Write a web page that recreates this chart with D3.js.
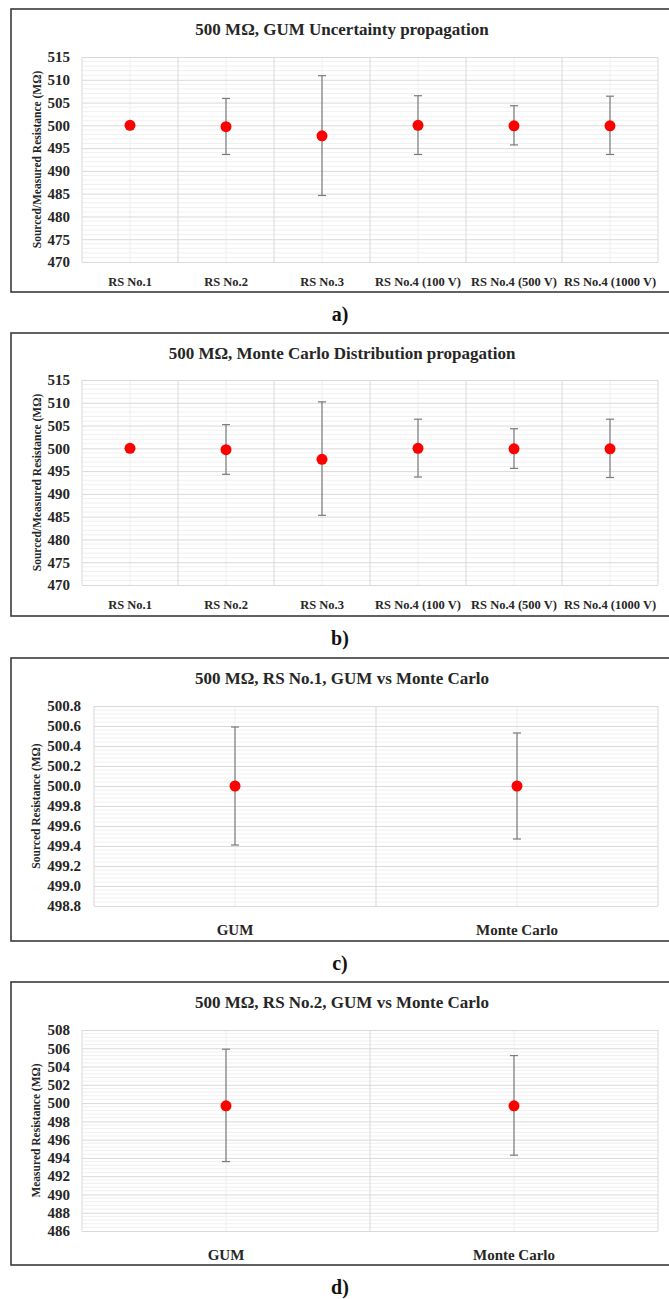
<!DOCTYPE html>
<html>
<head>
<meta charset="utf-8">
<script src="https://cdn.jsdelivr.net/npm/d3@7"></script>
<style>
  body { margin: 0; background: #fff; }
  svg { display: block; }
  svg text { font-family: "Liberation Serif", "DejaVu Serif", serif; }
</style>
</head>
<body>
<svg id="chart" width="669" height="1299"></svg>
<script>
// values (MΩ)
const categories = ["RS No.1", "RS No.2", "RS No.3", "RS No.4 (100 V)", "RS No.4 (500 V)", "RS No.4 (1000 V)"];
const gumMean  = [500.0, 499.7, 497.7, 500.0, 499.9, 499.9];
const gumUpper = [500.59, 505.9, 510.9, 506.5, 504.3, 506.4];
const gumLower = [499.41, 493.6, 484.6, 493.6, 495.7, 493.6];
const mcMean   = [500.0, 499.7, 497.6, 500.0, 499.9, 499.9];
const mcUpper  = [500.53, 505.2, 510.2, 506.4, 504.3, 506.4];
const mcLower  = [499.47, 494.3, 485.3, 493.7, 495.6, 493.6];
const methods = ["GUM", "Monte Carlo"];

const ticksAB = [470, 475, 480, 485, 490, 495, 500, 505, 510, 515];
const ticksC = [498.8, 499.0, 499.2, 499.4, 499.6, 499.8, 500.0, 500.2, 500.4, 500.6, 500.8];
const ticksD = [486, 488, 490, 492, 494, 496, 498, 500, 502, 504, 506, 508];

const svg = d3.select("#chart");

function rows(names, mean, upper, lower) {
  return names.map((n, i) => ({name: n, mean: mean[i], upper: upper[i], lower: lower[i]}));
}

function drawPanel(cfg) {
  const g = svg.append("g");

  // frame
  g.append("rect")
      .attr("x", 11).attr("y", cfg.top)
      .attr("width", 662).attr("height", 283)
      .attr("fill", "none")
      .attr("stroke", "#3a3a3a")
      .attr("stroke-width", 1.6);

  g.append("text")
      .attr("x", 342).attr("y", cfg.top + 26)
      .attr("text-anchor", "middle")
      .attr("font-size", 17).attr("font-weight", "bold")
      .attr("fill", "#262626")
      .text(cfg.title);

  const x = d3.scaleBand()
      .domain(cfg.data.map(d => d.name))
      .range([cfg.left, 658]);
  const y = d3.scaleLinear()
      .domain(d3.extent(cfg.ticks))
      .range([cfg.plotTop + cfg.plotH, cfg.plotTop]);

  // minor horizontal grid
  const step = cfg.ticks[1] - cfg.ticks[0];
  const minor = [];
  cfg.ticks.slice(0, -1).forEach(t => {
    for (let k = 1; k < 5; k++) minor.push(t + step * k / 5);
  });
  g.append("g")
    .selectAll("line").data(minor).enter().append("line")
      .attr("x1", cfg.left).attr("x2", 658)
      .attr("y1", d => y(d)).attr("y2", d => y(d))
      .attr("stroke", "#f0f0f0").attr("stroke-width", 1);

  // vertical center lines
  g.append("g")
    .selectAll("line").data(cfg.data).enter().append("line")
      .attr("x1", d => x(d.name) + x.bandwidth() / 2)
      .attr("x2", d => x(d.name) + x.bandwidth() / 2)
      .attr("y1", y.range()[1]).attr("y2", y.range()[0])
      .attr("stroke", "#eeeeee").attr("stroke-width", 1);

  // y axis with major grid
  const yAxis = g.append("g")
      .attr("transform", "translate(" + cfg.left + ",0)")
      .call(d3.axisLeft(y).tickValues(cfg.ticks).tickSize(-(658 - cfg.left)).tickPadding(cfg.yPad)
        .tickFormat(d3.format(cfg.fmt)));
  yAxis.attr("font-family", null);
  yAxis.select(".domain").remove();
  yAxis.selectAll(".tick line").attr("stroke", "#d9d9d9");
  yAxis.selectAll(".tick text")
      .attr("font-size", 15).attr("font-weight", "bold").attr("fill", "#262626");

  // category boundaries
  const bounds = cfg.data.map(d => x(d.name)).concat([658]);
  g.append("g")
    .selectAll("line").data(bounds).enter().append("line")
      .attr("x1", d => d).attr("x2", d => d)
      .attr("y1", y.range()[1]).attr("y2", y.range()[0])
      .attr("stroke", "#d9d9d9").attr("stroke-width", 1);

  // x axis labels
  const xAxis = g.append("g")
      .attr("transform", "translate(0," + (cfg.plotTop + cfg.plotH) + ")")
      .call(d3.axisBottom(x).tickSize(0).tickPadding(cfg.xPad));
  xAxis.attr("font-family", null);
  xAxis.select(".domain").remove();
  xAxis.selectAll(".tick text")
      .attr("font-size", cfg.xFont).attr("font-weight", "bold").attr("fill", "#262626");

  g.append("text")
      .attr("transform", "translate(" + cfg.yLabelX + "," + (cfg.plotTop + cfg.plotH / 2) + ") rotate(-90)")
      .attr("text-anchor", "middle")
      .attr("dy", "0.35em")
      .attr("font-size", 11.5).attr("font-weight", "bold").attr("fill", "#262626")
      .text(cfg.yLabel);

  // error bars
  const cx = d => x(d.name) + x.bandwidth() / 2;
  const eb = g.append("g").attr("stroke", "#7a7a7a").attr("stroke-width", 1.2);
  eb.selectAll(".stem").data(cfg.data).enter().append("line")
      .attr("x1", cx).attr("x2", cx)
      .attr("y1", d => y(d.upper)).attr("y2", d => y(d.lower));
  eb.selectAll(".capTop").data(cfg.data).enter().append("line")
      .attr("x1", d => cx(d) - 4).attr("x2", d => cx(d) + 4)
      .attr("y1", d => y(d.upper)).attr("y2", d => y(d.upper));
  eb.selectAll(".capBot").data(cfg.data).enter().append("line")
      .attr("x1", d => cx(d) - 4).attr("x2", d => cx(d) + 4)
      .attr("y1", d => y(d.lower)).attr("y2", d => y(d.lower));

  g.selectAll(".dot").data(cfg.data).enter().append("circle")
      .attr("cx", cx).attr("cy", d => y(d.mean))
      .attr("r", 5.5).attr("fill", "#ff0000");

  svg.append("text")
      .attr("x", 340).attr("y", cfg.top + 283 + 29)
      .attr("text-anchor", "middle")
      .attr("font-size", 20).attr("font-weight", "bold").attr("fill", "#111")
      .text(cfg.tag);
}

drawPanel({
  top: 9, plotTop: 57, plotH: 205, left: 82,
  title: "500 MΩ, GUM Uncertainty propagation",
  data: rows(categories, gumMean, gumUpper, gumLower),
  ticks: ticksAB, fmt: "d", yPad: 12,
  yLabel: "Sourced/Measured Resistance (MΩ)", yLabelX: 37,
  xFont: 12.5, xPad: 15, tag: "a)"
});

drawPanel({
  top: 333, plotTop: 380, plotH: 205, left: 82,
  title: "500 MΩ, Monte Carlo Distribution propagation",
  data: rows(categories, mcMean, mcUpper, mcLower),
  ticks: ticksAB, fmt: "d", yPad: 12,
  yLabel: "Sourced/Measured Resistance (MΩ)", yLabelX: 37,
  xFont: 12.5, xPad: 15, tag: "b)"
});

drawPanel({
  top: 658, plotTop: 706, plotH: 200, left: 94,
  title: "500 MΩ, RS No.1, GUM vs Monte Carlo",
  data: rows(methods, [gumMean[0], mcMean[0]], [gumUpper[0], mcUpper[0]], [gumLower[0], mcLower[0]]),
  ticks: ticksC, fmt: ".1f", yPad: 13,
  yLabel: "Sourced Resistance (MΩ)", yLabelX: 36,
  xFont: 15, xPad: 18, tag: "c)"
});

drawPanel({
  top: 982, plotTop: 1030, plotH: 201, left: 82,
  title: "500 MΩ, RS No.2, GUM vs Monte Carlo",
  data: rows(methods, [gumMean[1], mcMean[1]], [gumUpper[1], mcUpper[1]], [gumLower[1], mcLower[1]]),
  ticks: ticksD, fmt: "d", yPad: 12,
  yLabel: "Measured Resistance (MΩ)", yLabelX: 36,
  xFont: 15, xPad: 18, tag: "d)"
});
</script>
</body>
</html>
